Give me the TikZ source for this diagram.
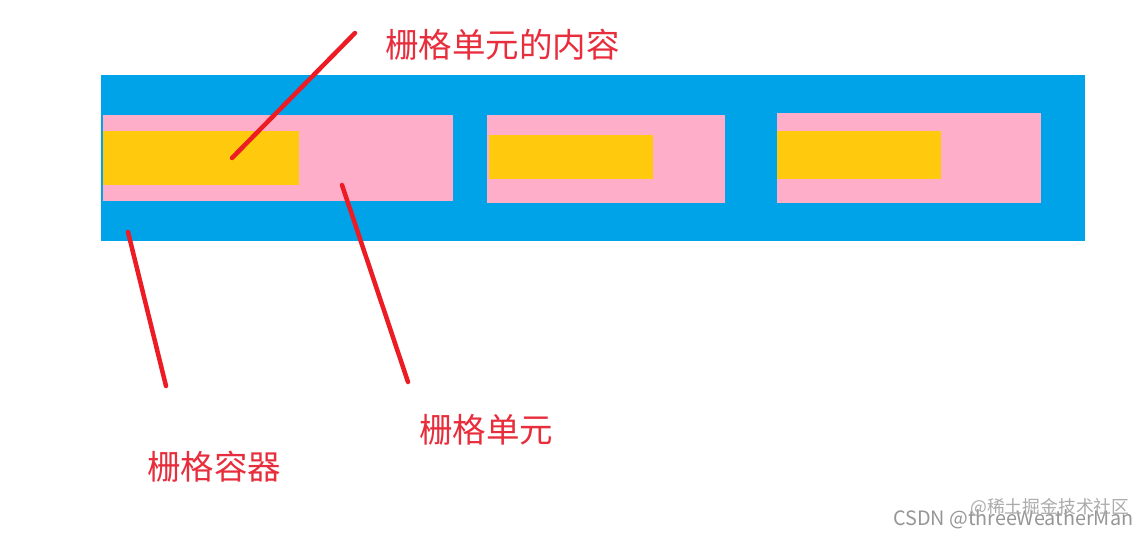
\documentclass[tikz,border=0pt]{standalone}
\usepackage{fontspec}
\newfontfamily\cjk{Noto Sans CJK SC}
\definecolor{pblue}{RGB}{0,162,232}
\definecolor{ppink}{RGB}{255,174,201}
\definecolor{pgold}{RGB}{255,201,14}
\definecolor{pred}{RGB}{237,28,36}
\definecolor{tred}{RGB}{232,45,60}
\definecolor{wgray}{RGB}{150,150,150}
\tikzset{
  box/.style={rectangle, inner sep=0pt, outer sep=0pt, draw=none},
  container/.style={box, fill=pblue},
  cell/.style={box, fill=ppink},
  content/.style={box, fill=pgold},
  pointer/.style={draw=pred, line width=4.5pt, line cap=round},
  label/.style={anchor=west, inner sep=0pt, text=tred, font=\cjk\fontsize{33.5}{33.5}\selectfont},
  wmark/.style={anchor=west, inner sep=0pt, text=wgray}
}
\begin{document}
\begin{tikzpicture}[x=1pt,y=-1pt]
\useasboundingbox[fill=white] (0,0) rectangle (1148,538);
% container
\node[container, minimum width=984pt, minimum height=166pt, anchor=north west] (cont) at (101,75) {};
% cells
\node[cell, minimum width=350pt, minimum height=86pt, anchor=north west] (c1) at (103,115) {};
\node[cell, minimum width=238pt, minimum height=88pt, anchor=north west] (c2) at (487,115) {};
\node[cell, minimum width=264pt, minimum height=90pt, anchor=north west] (c3) at (777,113) {};
% contents
\node[content, minimum width=196pt, minimum height=54pt, anchor=north west] (y1) at (103,131) {};
\node[content, minimum width=164pt, minimum height=44pt, anchor=north west] (y2) at (489,135) {};
\node[content, minimum width=164pt, minimum height=48pt, anchor=north west] (y3) at (777,131) {};
% labels
\node[label] (lcontent) at (385,45) {栅格单元的内容};
\node[label] (lcell) at (419,430) {栅格单元};
\node[label] (lcont) at (147,467) {栅格容器};
% pointer ends
\coordinate (p1a) at (355,33);
\coordinate (p1b) at (232,158);
\coordinate (p2a) at (128,232);
\coordinate (p2b) at (166,386);
\coordinate (p3a) at (342,185);
\coordinate (p3b) at (408,382);
\draw[pointer] (p1a) -- (p1b);
\draw[pointer] (p2a) -- (p2b);
\draw[pointer] (p3a) -- (p3b);
% watermark
\node[wmark, font=\cjk\fontsize{19.8}{19.8}\selectfont] (wm1) at (893,519) {CSDN @threeWeatherMan};
\node[wmark, text=wgray!80, font=\cjk\fontsize{17.8}{17.8}\selectfont] (wm2) at (970,507) {@稀土掘金技术社区};
\end{tikzpicture}
\end{document}
